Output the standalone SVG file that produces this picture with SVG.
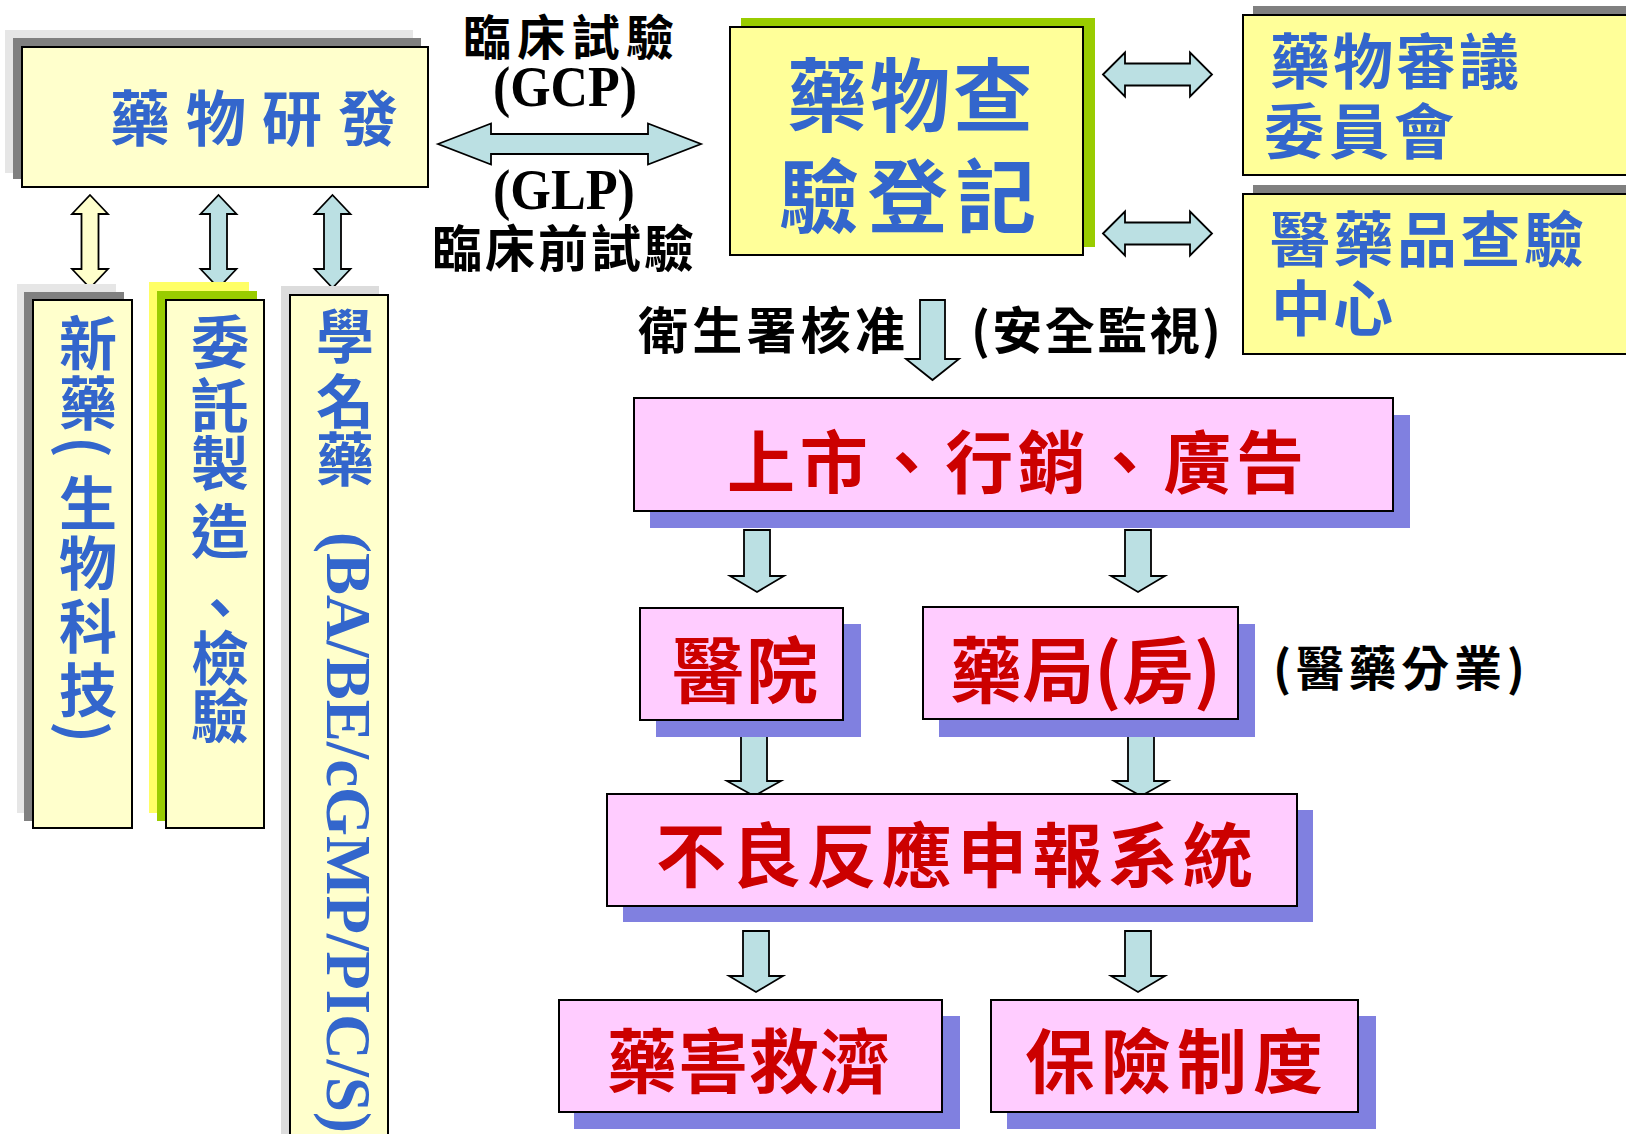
<svg xmlns="http://www.w3.org/2000/svg" width="1626" height="1134" viewBox="0 0 1626 1134">
<style>
.box{stroke:#000;stroke-width:2}
.y1{fill:#FFFFCC}
.y2{fill:#FFFF99}
.pk{fill:#FFCCFF}
.sh{fill:#8080E0}
.g1{fill:#E6E6E6}
.g2{fill:#808080}
.g3{fill:#DCDCDC}
.gr{fill:#99CC00}
.yl{fill:#FFFF66}
.arr{fill:#BBE0E3;stroke:#000;stroke-width:1.8}
.arrY{fill:#FFFFCC;stroke:#000;stroke-width:1.8}
.cjk{font-family:"Noto Sans CJK TC","Noto Sans CJK SC",sans-serif;font-weight:700}
.lat{font-family:"Liberation Serif","Noto Sans CJK TC",serif;font-weight:700}
.blue{fill:#3366CC}
.red{fill:#CC0000}
.blk{fill:#000}
.vt{writing-mode:vertical-rl}
</style>

<g id="connectors">
  <path id="arrow-dev-reg" class="arr" d="M438,144 L491,123.5 L491,134 L648,134 L648,123.5 L701,144 L648,164.5 L648,154 L491,154 L491,164.5 Z"/>
  <path id="arrow-reg-committee" class="arr" d="M1103,74.5 L1125,52.5 L1125,63.5 L1190,63.5 L1190,52.5 L1212,74.5 L1190,96.5 L1190,85.5 L1125,85.5 L1125,96.5 Z"/>
  <path id="arrow-reg-lab" class="arr" d="M1103,233.5 L1125,211.5 L1125,222.5 L1190,222.5 L1190,211.5 L1212,233.5 L1190,255.5 L1190,244.5 L1125,244.5 L1125,255.5 Z"/>
  <path id="arrow-dev-new" class="arrY" d="M90,195 L108,214 L98.5,214 L98.5,269 L108,269 L90,288 L72,269 L81.5,269 L81.5,214 L72,214 Z"/>
  <path id="arrow-dev-contract" class="arr" d="M218.5,195 L236.5,214 L227,214 L227,269 L236.5,269 L218.5,288 L200.5,269 L210,269 L210,214 L200.5,214 Z"/>
  <path id="arrow-dev-generic" class="arr" d="M332.5,195 L350.5,214 L341,214 L341,269 L350.5,269 L332.5,288 L314.5,269 L324,269 L324,214 L314.5,214 Z"/>
  <path id="arrow-reg-market" class="arr" d="M920,300 L945,300 L945,359 L959,359 L932.5,380 L906,359 L920,359 Z"/>
  <path id="arrow-market-hosp" class="arr" d="M744,530 L770,530 L770,576 L784,576 L757,592 L730,576 L744,576 Z"/>
  <path id="arrow-market-pharm" class="arr" d="M1125,530 L1151,530 L1151,576 L1165,576 L1138,592 L1111,576 L1125,576 Z"/>
  <path id="arrow-hosp-adr" class="arr" d="M741,735 L767,735 L767,781 L781,781 L754,796 L727,781 L741,781 Z"/>
  <path id="arrow-pharm-adr" class="arr" d="M1128,735 L1154,735 L1154,781 L1168,781 L1141,796 L1114,781 L1128,781 Z"/>
  <path id="arrow-adr-relief" class="arr" d="M743,931 L769,931 L769,976 L783,976 L756,992 L729,976 L743,976 Z"/>
  <path id="arrow-adr-insurance" class="arr" d="M1125,931 L1151,931 L1151,976 L1165,976 L1138,992 L1111,976 L1125,976 Z"/>
  <text class="cjk blk" x="463" y="55" font-size="48" textLength="211">臨床試驗</text>
  <text class="lat blk" x="493" y="106" font-size="56" textLength="144" lengthAdjust="spacingAndGlyphs">(GCP)</text>
  <text class="lat blk" x="493" y="209" font-size="56" textLength="142" lengthAdjust="spacingAndGlyphs">(GLP)</text>
  <text class="cjk blk" x="432" y="267" font-size="50" textLength="262">臨床前試驗</text>
  <text class="cjk blk" x="638" y="349" font-size="50" textLength="267">衛生署核准</text>
  <text class="cjk blk" x="971" y="349" font-size="50" textLength="250">(安全監視)</text>
  <text class="cjk blk" x="1273" y="686" font-size="48" textLength="252">(醫藥分業)</text>
</g>

<g id="node-drug-development">
  <rect class="g1" x="5" y="30" width="408" height="143"/>
  <rect class="g2" x="13" y="38" width="408" height="141"/>
  <rect class="box y1" x="22" y="47" width="406" height="140"/>
  <text class="cjk blue" x="110" y="141" font-size="60" textLength="288">藥物研發</text>
</g>

<g id="node-new-drug">
  <rect class="g1" x="17" y="284" width="99" height="529"/>
  <rect class="g2" x="24" y="292" width="100" height="529"/>
  <rect class="box y1" x="33" y="300" width="99" height="528"/>
  <text class="cjk blue vt" x="88" y="314 374 436 474 534 597 661 721" font-size="58">新藥(生物科技)</text>
</g>

<g id="node-contract">
  <rect class="yl" x="149" y="282" width="100" height="531"/>
  <rect class="gr" x="157" y="291" width="100" height="530"/>
  <rect class="box y1" x="166" y="300" width="98" height="528"/>
  <text class="cjk blue vt" x="220" y="313 376 434 502 578 629 687" font-size="58">委託製造、檢驗</text>
</g>

<g id="node-generic">
  <rect class="g3" x="281" y="286" width="98" height="870"/>
  <rect class="box y1" x="290" y="295" width="98" height="860"/>
  <text class="cjk blue vt" x="345" y="307 372 430" font-size="58">學名藥</text>
  <text class="lat blue" transform="translate(327,532) rotate(90)" x="0" y="0" font-size="64" textLength="601" lengthAdjust="spacingAndGlyphs">(BA/BE/cGMP/PIC/S)</text>
</g>

<g id="node-registration">
  <rect class="gr" x="741" y="18" width="354" height="229"/>
  <rect class="box y2" x="730" y="27" width="353" height="228"/>
  <text class="cjk blue" x="787" y="125" font-size="80" textLength="246">藥物查</text>
  <text class="cjk blue" x="779" y="226" font-size="80" textLength="257">驗登記</text>
</g>

<g id="node-committee">
  <rect class="g2" x="1253" y="6" width="400" height="160"/>
  <rect class="box y2" x="1243" y="15" width="420" height="160"/>
  <text class="cjk blue" x="1270" y="84" font-size="60" textLength="249">藥物審議</text>
  <text class="cjk blue" x="1264" y="154" font-size="60" textLength="190">委員會</text>
</g>

<g id="node-lab">
  <rect class="g2" x="1253" y="185" width="400" height="160"/>
  <rect class="box y2" x="1243" y="194" width="420" height="160"/>
  <text class="cjk blue" x="1270" y="262" font-size="60" textLength="314">醫藥品查驗</text>
  <text class="cjk blue" x="1271" y="331" font-size="60" textLength="122">中心</text>
</g>

<g id="node-market">
  <rect class="sh" x="650" y="415" width="760" height="113"/>
  <rect class="box pk" x="634" y="398" width="759" height="113"/>
  <text class="cjk red" x="727" y="488" font-size="68" textLength="577">上市、行銷、廣告</text>
</g>

<g id="node-hospital">
  <rect class="sh" x="656" y="624" width="205" height="113"/>
  <rect class="box pk" x="640" y="608" width="203" height="112"/>
  <text class="cjk red" x="672" y="697" font-size="72" textLength="146">醫院</text>
</g>

<g id="node-pharmacy">
  <rect class="sh" x="939" y="624" width="316" height="113"/>
  <rect class="box pk" x="923" y="607" width="315" height="112"/>
  <text class="cjk red" x="950" y="697" font-size="72" textLength="271">藥局(房)</text>
</g>

<g id="node-adr">
  <rect class="sh" x="623" y="810" width="690" height="112"/>
  <rect class="box pk" x="607" y="794" width="690" height="112"/>
  <text class="cjk red" x="656" y="882" font-size="70" textLength="597">不良反應申報系統</text>
</g>

<g id="node-relief">
  <rect class="sh" x="574" y="1016" width="386" height="113"/>
  <rect class="box pk" x="559" y="1000" width="383" height="112"/>
  <text class="cjk red" x="607" y="1088" font-size="70" textLength="283">藥害救濟</text>
</g>

<g id="node-insurance">
  <rect class="sh" x="1007" y="1016" width="369" height="113"/>
  <rect class="box pk" x="991" y="1000" width="367" height="112"/>
  <text class="cjk red" x="1025" y="1088" font-size="70" textLength="298">保險制度</text>
</g>
</svg>
